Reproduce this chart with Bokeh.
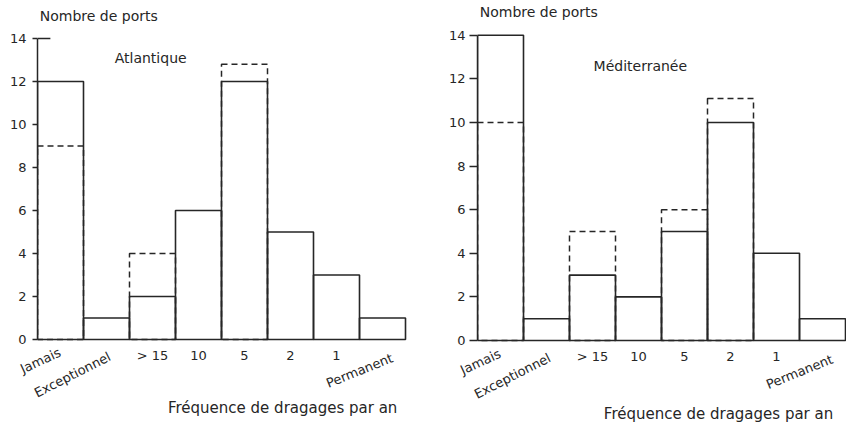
from bokeh.plotting import figure
from bokeh.models import Range1d, FixedTicker, Label, ColumnDataSource
from bokeh.layouts import row
from bokeh.embed import file_html
from bokeh.resources import INLINE
from bokeh.core.properties import value

# ---------------- data ----------------
categories = ["Jamais", "Exceptionnel", "> 15", "10", "5", "2", "1", "Permanent"]
atl_solid = [12, 1, 2, 6, 12, 5, 3, 1]
atl_dashed = [9, None, 4, None, 12.8, None, None, None]
med_solid = [14, 1, 3, 2, 5, 10, 4, 1]
med_dashed = [10, None, 5, None, 6, 11.1, None, None]
y_ticks = [0, 2, 4, 6, 8, 10, 12, 14]
y_title = "Nombre de ports"
x_title = "Fréquence de dragages par an"
panel_names = ["Atlantique", "Méditerranée"]

# ---------------- style ----------------
INK = "#262626"
FONT = "DejaVu Sans"
FS = "14px"
TFS = "13px"
# rotated category labels: (angle deg, x_offset px, y_offset px downward)
rot_style = {"Jamais": (25, -20, 5), "Exceptionnel": (27, -34, 19), "Permanent": (22, -23, 15)}


def txt(x, y, text, align="center", size=FS):
    return Label(x=x, y=y, text=text, text_align=align, text_baseline="middle",
                 level="overlay", text_font=FONT, text_font_size=size, text_color=INK)


def panel(solid, dashed, name, width, border_left, y_px0, y_unit, name_xy, xt_xy, tick_out, standoff, top_tick):
    frame_w = width - border_left
    bar_px = 46.0
    p = figure(width=width, height=425, output_backend="svg", toolbar_location=None,
               x_range=Range1d(0, frame_w / bar_px),
               y_range=Range1d(-(425 - y_px0) / y_unit, y_px0 / y_unit),
               min_border_left=border_left, min_border_right=0,
               min_border_top=0, min_border_bottom=0,
               x_axis_location=None)
    p.outline_line_color = None
    p.grid.visible = False
    p.background_fill_color = "white"
    p.border_fill_color = "white"

    ax = p.yaxis[0]
    ax.ticker = FixedTicker(ticks=y_ticks)
    ax.bounds = (y_ticks[0], y_ticks[-1])
    ax.minor_tick_line_color = None
    ax.major_tick_out = tick_out
    ax.major_tick_in = 0
    ax.major_label_standoff = standoff
    ax.axis_line_color = INK
    ax.axis_line_width = 1.5
    ax.major_tick_line_color = INK
    ax.major_tick_line_width = 1.3
    ax.major_label_text_font = FONT
    ax.major_label_text_font_size = TFS
    ax.major_label_text_color = INK

    n = len(categories)
    lefts = list(range(n))
    rights = [i + 1 for i in range(n)]

    # dashed series (second count), drawn under the solid bars
    dl = [lefts[i] for i in range(n) if dashed[i] is not None]
    dr = [rights[i] for i in range(n) if dashed[i] is not None]
    dt = [dashed[i] for i in range(n) if dashed[i] is not None]
    p.quad(left=dl, right=dr, bottom=0, top=dt, fill_color=None,
           line_color=INK, line_width=1.5, line_dash="6 4")
    # solid series
    p.quad(left=lefts, right=rights, bottom=0, top=solid, fill_color=None,
           line_color=INK, line_width=1.6)
    if top_tick:
        p.segment(x0=[0], y0=[y_ticks[-1]], x1=[0.28], y1=[y_ticks[-1]],
                  line_color=INK, line_width=1.5)

    # category labels under the bars
    xs, ys, tt, ang, xo, yo = [], [], [], [], [], []
    for i, c in enumerate(categories):
        a, ox, oy = rot_style.get(c, (0, 0, 0))
        xs.append(i + 0.5); ys.append(-0.75); tt.append(c)
        ang.append(a); xo.append(ox); yo.append(oy)
    src = ColumnDataSource(dict(x=xs, y=ys, text=tt, angle=ang, xo=xo, yo=yo))
    p.text(x="x", y="y", text="text", angle="angle", angle_units="deg",
           x_offset="xo", y_offset="yo", source=src, level="overlay",
           text_align="center", text_baseline="middle",
           text_font=value(FONT), text_font_size=value(TFS), text_color=INK)

    p.add_layout(txt(0.05, 15.05, y_title, align="left"))
    p.add_layout(txt(name_xy[0], name_xy[1], name))
    p.add_layout(txt(xt_xy[0], xt_xy[1], x_title, size="15px"))
    return p


p1 = panel(atl_solid, atl_dashed, panel_names[0], 423, 37, 339, 21.5, (2.46, 13.1), (5.33, -3.2), 5, 6, True)
p2 = panel(med_solid, med_dashed, panel_names[1], 423, 54, 340, 21.8, (3.54, 12.6), (5.24, -3.35), 8, 4, False)

layout = row(p1, p2)
open("out.html", "w").write(file_html(layout, INLINE))
